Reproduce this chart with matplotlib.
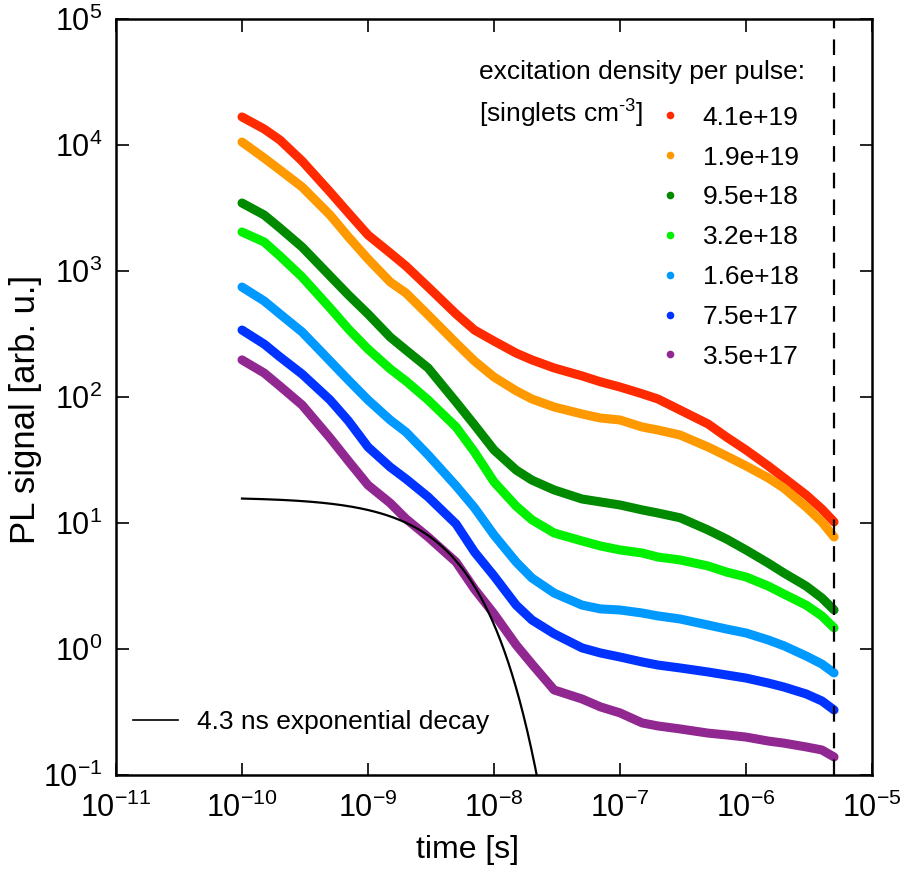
import numpy as np
import matplotlib
matplotlib.use("Agg")
import matplotlib.pyplot as plt
from matplotlib.lines import Line2D

plt.rcParams['font.family'] = ['Liberation Sans', 'DejaVu Sans']
plt.rcParams['mathtext.fontset'] = 'custom'
plt.rcParams['mathtext.rm'] = 'Liberation Sans'
plt.rcParams['mathtext.it'] = 'Liberation Sans:italic'
plt.rcParams['mathtext.bf'] = 'Liberation Sans:bold'

# time grid [s]
time = [1e-10, 1.5e-10, 2e-10, 3e-10, 5e-10, 7e-10, 1e-9, 1.5e-9, 2e-9, 3e-9,
        5e-9, 7e-9, 1e-8, 1.5e-8, 2e-8, 3e-8, 5e-8, 7e-8, 1e-7, 1.5e-7,
        2e-7, 3e-7, 5e-7, 7e-7, 1e-6, 1.5e-6, 2e-6, 3e-6, 4e-6, 5e-6]

pl_41e19 = [16700, 13400, 10960, 7460, 4236, 2885, 1931, 1390, 1096, 746,
            456, 340, 278, 223, 197, 170, 147, 132, 120, 106,
            96.4, 78.8, 61.1, 48.1, 38.0, 28.4, 22.8, 16.7, 12.9, 10.2]
pl_19e19 = [10560, 7885, 6335, 4642, 2783, 1862, 1245, 818, 669, 448,
            268, 193, 144, 112, 96.4, 83.3, 73.3, 68.1, 65.7, 57.8,
            54.7, 49.9, 40.1, 34.0, 28.4, 22.8, 18.9, 13.4, 10.2, 7.74]
pl_95e18 = [3465, 2783, 2195, 1550, 913, 645, 456, 299, 236, 170,
            91.3, 60.0, 38.0, 26.3, 21.9, 18.3, 15.5, 14.7, 13.9, 12.7,
            12.0, 11.0, 8.80, 7.46, 6.11, 4.81, 4.01, 3.16, 2.54, 2.04]
pl_32e18 = [2040, 1699, 1315, 896, 509, 346, 240, 167, 134, 94.7,
            57.8, 36.6, 21.2, 13.6, 10.6, 8.33, 7.20, 6.57, 6.11, 5.78,
            5.37, 5.09, 4.56, 4.08, 3.73, 3.16, 2.73, 2.23, 1.83, 1.47]
pl_16e18 = [746, 578, 456, 328, 193, 136, 94.7, 65.7, 52.7, 34.7,
            19.7, 13.2, 8.03, 4.90, 3.66, 2.78, 2.23, 2.08, 2.04, 1.93,
            1.83, 1.73, 1.55, 1.44, 1.34, 1.18, 1.06, 0.880, 0.760, 0.645]
pl_75e17 = [340, 263, 208, 152, 94.7, 64.5, 40.1, 27.8, 22.4, 16.1,
            9.82, 5.89, 3.80, 2.23, 1.70, 1.32, 1.02, 0.930, 0.864, 0.789,
            0.746, 0.707, 0.657, 0.622, 0.588, 0.537, 0.499, 0.440, 0.387, 0.328]
pl_35e17 = [197, 155, 122, 86.4, 47.3, 31.0, 20.0, 14.4, 10.8, 7.74,
            4.90, 2.99, 1.90, 1.076, 0.760, 0.473, 0.401, 0.347, 0.311, 0.259,
            0.245, 0.232, 0.215, 0.208, 0.200, 0.186, 0.179, 0.167, 0.158, 0.139]

series = [pl_41e19, pl_19e19, pl_95e18, pl_32e18, pl_16e18, pl_75e17, pl_35e17]
labels = ['4.1e+19', '1.9e+19', '9.5e+18', '3.2e+18', '1.6e+18', '7.5e+17', '3.5e+17']
colors = ['#ff2a00', '#ff9900', '#008a00', '#00f000', '#0099ff', '#0033ff', '#912891']

# exponential decay model
amp = 16.0
tau = 4.3e-9
t_end = 5e-6

fig = plt.figure(figsize=(9.08, 8.76), dpi=100)
ax = fig.add_axes([0.12775, 0.1153, 0.8326, 0.8630])

for vals, c in zip(series, colors):
    ax.plot(time, vals, color=c, lw=6.5, solid_capstyle='round',
            solid_joinstyle='round', zorder=2)

t_fit = np.logspace(-10, np.log10(2.6e-8), 400)
ax.plot(t_fit, amp * np.exp(-t_fit / tau), color='black', lw=1.6, zorder=4)

ax.axvline(t_end, color='black', lw=1.6, linestyle=(0, (7, 5)), zorder=3)

ax.set_xscale('log')
ax.set_yscale('log')
ax.set_xlim(1e-11, 1e-5)
ax.set_ylim(1e-1, 1e5)
ax.set_xticks([1e-11, 1e-10, 1e-9, 1e-8, 1e-7, 1e-6, 1e-5])
ax.set_yticks([1e-1, 1e0, 1e1, 1e2, 1e3, 1e4, 1e5])
ax.minorticks_off()
ax.tick_params(which='major', direction='in', length=9, width=1.2,
               top=True, right=True, labelsize=22)
ax.tick_params(axis='x', pad=13)
ax.tick_params(axis='y', pad=10)
for s in ax.spines.values():
    s.set_linewidth(1.8)

ax.set_xlabel('time [s]', fontsize=23)
ax.set_ylabel('PL signal [arb. u.]', fontsize=25)
ax.xaxis.set_label_coords(0.4656, -0.080)
ax.yaxis.set_label_coords(-0.098, 0.483)

# legend of the measured series
handles = [Line2D([], [], ls='none', marker='o', ms=5.5, color=c, markeredgewidth=0)
           for c in colors]
leg = ax.legend(handles, labels, loc='upper left', bbox_to_anchor=(0.716, 0.8853),
                frameon=False, fontsize=19, handlelength=1.0, handletextpad=0.72,
                labelspacing=0.6, borderpad=0, borderaxespad=0)
ax.add_artist(leg)

ax.text((479 - 116) / 756, (775 - 72) / 756, 'excitation density per pulse:',
        transform=ax.transAxes, fontsize=19, va='center', ha='left')
ax.text((479 - 116) / 756, (775 - 114) / 756, r'[singlets cm$^{\text{-3}}$]',
        transform=ax.transAxes, fontsize=19, va='center', ha='left')

# legend of the fit line
fit_handle = Line2D([], [], color='black', lw=1.2)
ax.legend([fit_handle], ['4.3 ns exponential decay'], loc='upper left',
          bbox_to_anchor=(0.0225, 0.0863), frameon=False, fontsize=19,
          handlelength=1.7, handletextpad=0.72, borderpad=0, borderaxespad=0)

fig.savefig('out.png', dpi=100)
